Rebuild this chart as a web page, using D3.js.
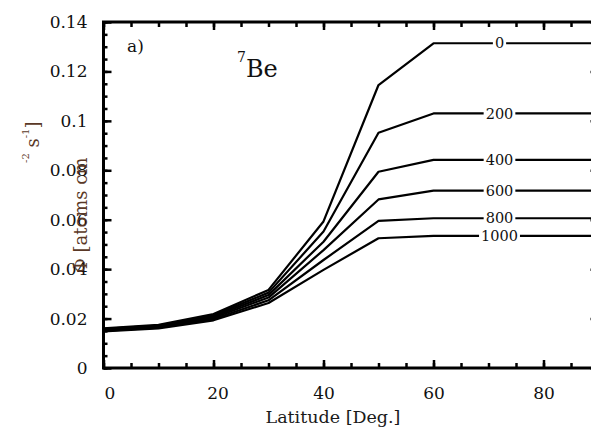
<!DOCTYPE html>
<html>
<head>
<meta charset="utf-8">
<script src="https://cdn.jsdelivr.net/npm/d3@7"></script>
<style>
html,body{margin:0;padding:0;background:#fff;overflow:hidden;}
svg{display:block;}
svg text{font-family:"DejaVu Serif",serif !important;}
</style>
</head>
<body>
<svg id="chart" width="591" height="429"></svg>
<script>
// ---- data ----
const latitudes = [0, 10, 20, 30, 40, 50, 60, 90];
const altitudeLabels = ["0", "200", "400", "600", "800", "1000"];
const flux0    = [0.0160, 0.0175, 0.0218, 0.0316, 0.0593, 0.1145, 0.1314, 0.1314];
const flux200  = [0.0158, 0.0172, 0.0213, 0.0305, 0.0552, 0.0952, 0.1030, 0.1030];
const flux400  = [0.0155, 0.0169, 0.0208, 0.0295, 0.0511, 0.0794, 0.0842, 0.0842];
const flux600  = [0.0153, 0.0166, 0.0203, 0.0285, 0.0477, 0.0682, 0.0718, 0.0718];
const flux800  = [0.0150, 0.0163, 0.0198, 0.0274, 0.0437, 0.0595, 0.0606, 0.0606];
const flux1000 = [0.0148, 0.0160, 0.0193, 0.0263, 0.0397, 0.0525, 0.0535, 0.0535];
const seriesValues = [flux0, flux200, flux400, flux600, flux800, flux1000];
const xTickValues = [0, 20, 40, 60, 80];
const yTickValues = [0, 0.02, 0.04, 0.06, 0.08, 0.1, 0.12, 0.14];
const yTickLabels = ["0", "0.02", "0.04", "0.06", "0.08", "0.1", "0.12", "0.14"];

// ---- layout ----
const svg = d3.select("#chart");
const L = 103.5, R = 598.5, T = 22, B = 368;
const x = d3.scaleLinear().domain([0, 90]).range([L, R]);
const y = d3.scaleLinear().domain([0, 0.14]).range([B, T]);
const SERIF = '"DejaVu Serif", serif';

const minorX = d3.range(0, 91, 5);
const minorY = d3.range(0, 0.1401, 0.005);

function styleAxis(g) {
  g.attr("font-family", SERIF);
  g.select(".domain").remove();
  g.selectAll(".tick line").attr("stroke", "#000").attr("stroke-width", 2.5);
}
// minor ticks
svg.append("g").attr("transform", `translate(0,${B})`)
  .call(d3.axisBottom(x).tickValues(minorX).tickSize(-5).tickFormat(""))
  .call(styleAxis);
svg.append("g").attr("transform", `translate(0,${T})`)
  .call(d3.axisTop(x).tickValues(minorX).tickSize(-5).tickFormat(""))
  .call(styleAxis);
svg.append("g").attr("transform", `translate(${L},0)`)
  .call(d3.axisLeft(y).tickValues(minorY).tickSize(-4).tickFormat(""))
  .call(styleAxis);
svg.append("g").attr("transform", `translate(${R},0)`)
  .call(d3.axisRight(y).tickValues(minorY).tickSize(-4).tickFormat(""))
  .call(styleAxis);
// major ticks
const xb = svg.append("g").attr("transform", `translate(0,${B})`)
  .call(d3.axisBottom(x).tickValues(xTickValues).tickSize(-8).tickPadding(19).tickFormat(d3.format("d")))
  .call(styleAxis);
xb.selectAll(".tick text").attr("font-size", 17).attr("fill", "#111")
  .attr("dx", d => d === 0 ? 6 : (d === 20 ? 4 : 0));
svg.append("g").attr("transform", `translate(0,${T})`)
  .call(d3.axisTop(x).tickValues(xTickValues).tickSize(-8).tickFormat(""))
  .call(styleAxis);
const yl = svg.append("g").attr("transform", `translate(${L},0)`)
  .call(d3.axisLeft(y).tickValues(yTickValues).tickSize(-8).tickPadding(16)
    .tickFormat((d, i) => yTickLabels[i]))
  .call(styleAxis);
yl.selectAll(".tick text").attr("font-size", 17).attr("fill", "#111");
svg.append("g").attr("transform", `translate(${R},0)`)
  .call(d3.axisRight(y).tickValues(yTickValues).tickSize(-8).tickFormat(""))
  .call(styleAxis);

// frame
svg.append("rect").attr("x", L).attr("y", T).attr("width", R - L).attr("height", B - T)
  .attr("fill", "none").attr("stroke", "#000").attr("stroke-width", 3);

// curves
const line = d3.line().x((d, i) => x(latitudes[i])).y(d => y(d));
svg.append("g").selectAll("path").data(seriesValues).join("path")
  .attr("d", d => line(d))
  .attr("fill", "none").attr("stroke", "#000").attr("stroke-width", 2.2)
  .attr("stroke-linejoin", "round");

// curve labels with white gap
const labelLat = 72;
const lg = svg.append("g");
seriesValues.forEach((vals, i) => {
  const v = vals[vals.length - 1];
  const g = lg.append("g");
  const t = g.append("text").attr("x", x(labelLat)).attr("y", y(v))
    .attr("dy", "0.36em").attr("text-anchor", "middle")
    .attr("font-size", 14.5).attr("fill", "#111").text(altitudeLabels[i]);
  const bb = t.node().getBBox();
  g.insert("rect", "text").attr("x", bb.x - 2).attr("y", y(v) - 3)
    .attr("width", bb.width + 4).attr("height", 6).attr("fill", "#fff");
});

// panel annotations
svg.append("text").attr("x", 127).attr("y", 52).attr("font-size", 17).attr("fill", "#111").text("a)");
const be = svg.append("text").attr("x", 237).attr("y", 77).attr("fill", "#111");
be.append("tspan").attr("font-size", 14).attr("dy", -15).text("7");
be.append("tspan").attr("font-size", 24).attr("dy", 15).text("Be");

// x axis title
svg.append("text").attr("x", 333).attr("y", 423).attr("text-anchor", "middle")
  .attr("font-size", 17.5).attr("fill", "#1a1a1a").text("Latitude [Deg.]");

// y axis title (split as in the reference)
const yc = "#5a3826";
svg.append("text").attr("transform", "translate(87,273) rotate(-90)")
  .attr("font-size", 18).attr("fill", yc).text("Φ [atoms cm");
const y2 = svg.append("text").attr("transform", "translate(39,163) rotate(-90)")
  .attr("font-size", 18).attr("fill", yc);
y2.append("tspan").attr("font-size", 10).attr("dy", -10).text("-2");
y2.append("tspan").attr("dy", 10).text(" s");
y2.append("tspan").attr("font-size", 10).attr("dy", -10).text("-1");
y2.append("tspan").attr("dy", 10).text("]");
</script>
</body>
</html>
